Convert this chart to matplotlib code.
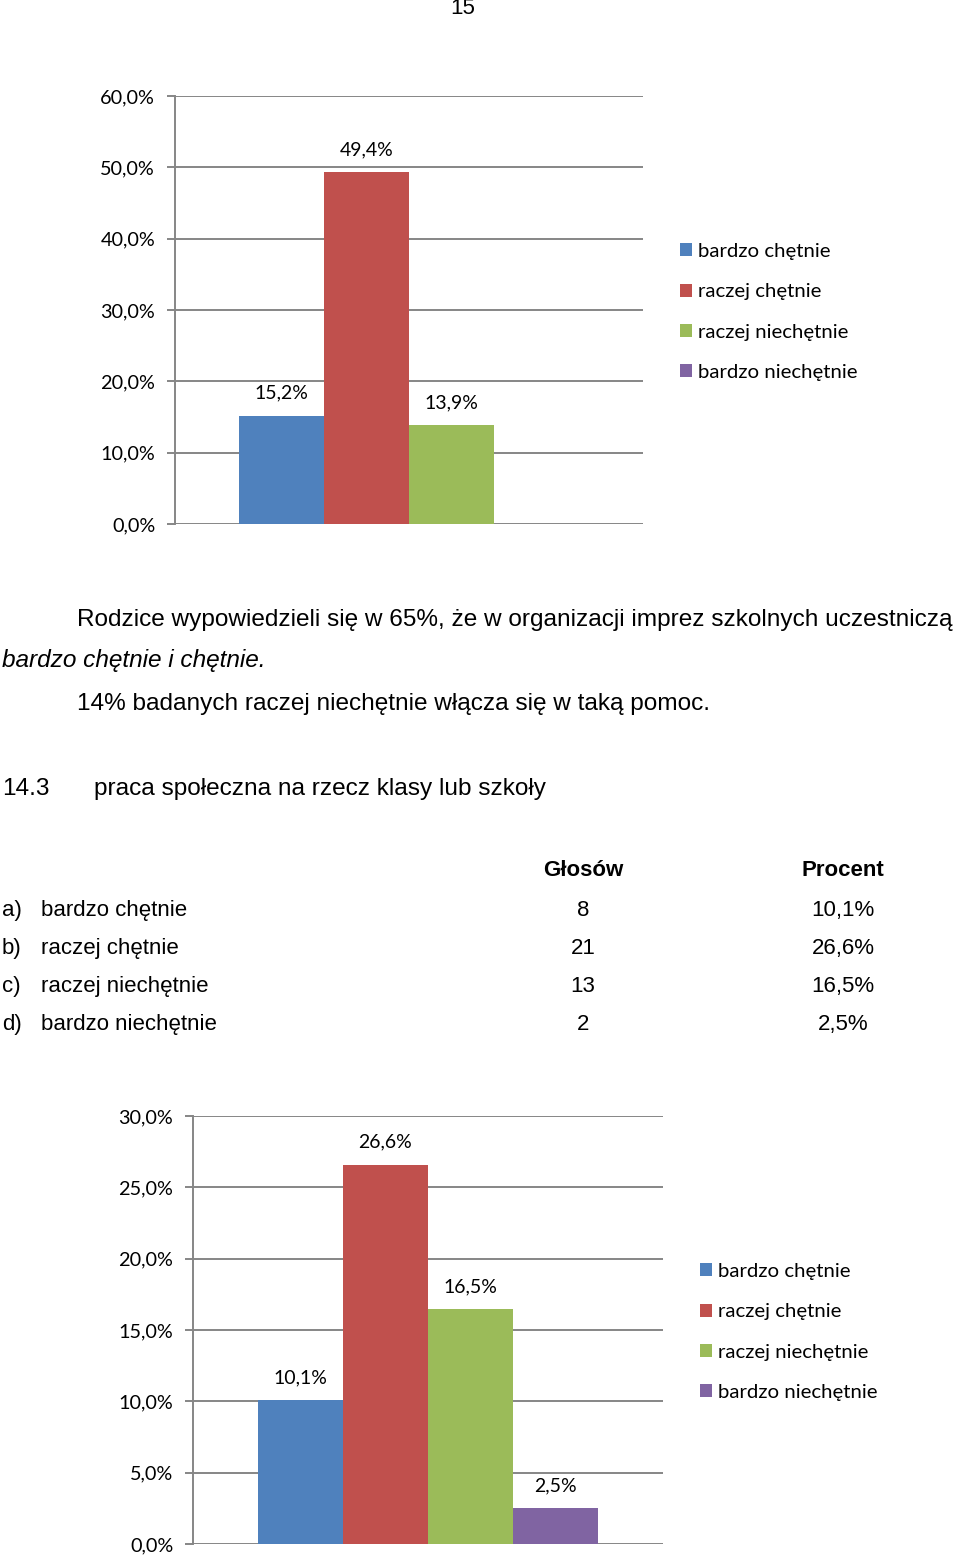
import numpy as np
import matplotlib
matplotlib.use("Agg")
import matplotlib.pyplot as plt
from matplotlib.patches import Patch

# Dane
kategorie = ["bardzo chętnie", "raczej chętnie", "raczej niechętnie", "bardzo niechętnie"]
kolory = ["#4f81bd", "#c0504d", "#9bbb59", "#8064a2"]
wartosci_1 = [15.2, 49.4, 13.9, np.nan]
wartosci_2 = [10.1, 26.6, 16.5, 2.5]
glosow_2 = [8, 21, 13, 2]
litery = ["a)", "b)", "c)", "d)"]

W, H = 960, 1555
fig = plt.figure(figsize=(W / 100, H / 100), dpi=100)
fig.patch.set_facecolor("white")

SZARY = "#868686"
FONT_WYKRES = "Lato"
FONT_TEKST = "Liberation Sans"
ROZM_TEKST = 17.6


def rect(x0, y0, x1, y1):
    # piksele (od góry) -> ułamki figury
    return [x0 / W, 1 - y1 / H, (x1 - x0) / W, (y1 - y0) / H]


def fx(x):
    return x / W


def fy(y):
    return 1 - y / H


def wykres(r, wartosci, ymax, krok, legenda_xy):
    ax = fig.add_axes(r)
    x = np.arange(len(wartosci))
    ax.bar(x, wartosci, width=1.0, color=kolory, linewidth=0, zorder=3)
    szer_px = r[2] * W
    span = szer_px / 85.0
    ax.set_xlim(1.5 - span / 2, 1.5 + span / 2)
    ax.set_ylim(0, ymax)
    ax.set_yticks(np.arange(0, ymax + 0.01, krok))
    ax.set_yticklabels([f"{v:.1f}%".replace(".", ",") for v in np.arange(0, ymax + 0.01, krok)],
                       fontfamily=FONT_WYKRES, fontsize=14.3)
    ax.set_xticks([])
    ax.yaxis.grid(True, color=SZARY, lw=1.4, zorder=0)
    ax.tick_params(axis="y", length=6, width=1.4, color=SZARY, pad=8.3)
    for s in ["top", "right", "bottom"]:
        ax.spines[s].set_visible(False)
    ax.spines["left"].set_color(SZARY)
    ax.spines["left"].set_linewidth(1.4)
    for xi, v in zip(x, wartosci):
        if np.isnan(v):
            continue
        ax.annotate(f"{v:.1f}%".replace(".", ","), (xi, v), xytext=(0, 16),
                    textcoords="offset points", ha="center", va="center",
                    fontfamily=FONT_WYKRES, fontsize=14)
    uchwyty = [Patch(facecolor=k, edgecolor="none") for k in kolory]
    fig.legend(uchwyty, kategorie, loc="upper left",
               bbox_to_anchor=(fx(legenda_xy[0]), fy(legenda_xy[1])),
               frameon=False, prop={"family": FONT_WYKRES, "size": 14.7},
               handlelength=0.6, handleheight=0.6, handletextpad=0.3,
               labelspacing=1.14, borderpad=0, borderaxespad=0)
    return ax


# Numer strony
fig.text(fx(463), fy(9), "15", ha="center", va="center", fontfamily=FONT_TEKST, fontsize=16)

# Wykres 1
wykres(rect(175, 96, 643, 524), wartosci_1, 60, 10, (680, 243))

# Tekst
fig.text(fx(77), fy(620), "Rodzice wypowiedzieli się w 65%, że w organizacji imprez szkolnych uczestniczą",
         ha="left", va="center", fontfamily=FONT_TEKST, fontsize=ROZM_TEKST)
fig.text(fx(2), fy(661), "bardzo chętnie i chętnie.", ha="left", va="center",
         fontfamily=FONT_TEKST, fontsize=ROZM_TEKST, style="italic")
fig.text(fx(77), fy(704), "14% badanych raczej niechętnie włącza się w taką pomoc.",
         ha="left", va="center", fontfamily=FONT_TEKST, fontsize=ROZM_TEKST)
fig.text(fx(2), fy(789), "14.3", ha="left", va="center", fontfamily=FONT_TEKST, fontsize=ROZM_TEKST)
fig.text(fx(94), fy(789), "praca społeczna na rzecz klasy lub szkoły", ha="left", va="center",
         fontfamily=FONT_TEKST, fontsize=ROZM_TEKST)

# Tabela
fig.text(fx(583), fy(871), "Głosów", ha="center", va="center", fontfamily=FONT_TEKST,
         fontsize=16, fontweight="bold")
fig.text(fx(843), fy(871), "Procent", ha="center", va="center", fontfamily=FONT_TEKST,
         fontsize=16, fontweight="bold")
for i, (lit, kat, g, p) in enumerate(zip(litery, kategorie, glosow_2, wartosci_2)):
    y = 910 + i * 38.3
    fig.text(fx(2), fy(y), lit, ha="left", va="center", fontfamily=FONT_TEKST, fontsize=16)
    fig.text(fx(41), fy(y), kat, ha="left", va="center", fontfamily=FONT_TEKST, fontsize=16)
    fig.text(fx(583), fy(y), str(g), ha="center", va="center", fontfamily=FONT_TEKST, fontsize=16)
    fig.text(fx(843), fy(y), f"{p:.1f}%".replace(".", ","), ha="center", va="center",
             fontfamily=FONT_TEKST, fontsize=16)

# Wykres 2
wykres(rect(193, 1116, 663, 1544), wartosci_2, 30, 5, (700, 1263))

fig.savefig("out.png", dpi=100, facecolor="white")
